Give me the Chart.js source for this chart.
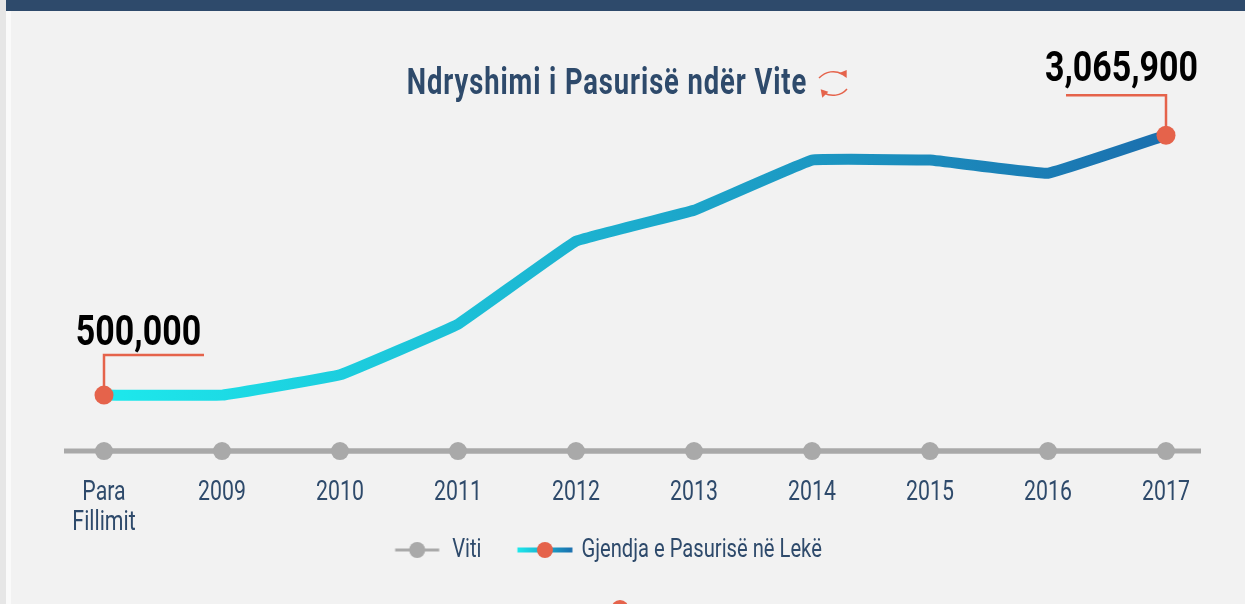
<!DOCTYPE html>
<html><head><meta charset="utf-8">
<script src="https://cdn.jsdelivr.net/npm/chart.js@4/dist/chart.umd.min.js"></script>
<style>
html,body{margin:0;padding:0;width:1245px;height:604px;overflow:hidden;background:#f2f2f2}
#strip{position:absolute;left:0;top:0;width:6px;height:604px;background:#e6e6e6}
#white{position:absolute;left:6px;top:0;width:5px;height:604px;background:#fafafa}
#bar{position:absolute;left:6px;top:0;width:1239px;height:11px;background:#2e4a6b}
#dot{position:absolute;left:611px;top:600px;width:18px;height:18px;border-radius:50%;background:#e5634b}
#icon{position:absolute;left:817px;top:68px}
canvas{position:absolute;left:0;top:0}
</style></head>
<body>
<div id="strip"></div><div id="white"></div><div id="bar"></div><div id="dot"></div>
<svg id="icon" width="33" height="32" viewBox="0 0 33 32" fill="none" stroke="#e5634b" stroke-width="1.5">
<path d="M2 10 C9 3 18 2 25 6"/><path d="M29.7 2 L29.7 10 L22.3 5 Z" fill="#e5634b" stroke="none"/>
<path d="M30 21 C24 28 14 29 7 25"/><path d="M3.7 21.3 L5.3 29.7 L11.3 23.7 Z" fill="#e5634b" stroke="none"/>
</svg>
<canvas id="c" width="1245" height="604"></canvas>
<script>
const categories = [["Para","Fillimit"],"2009","2010","2011","2012","2013","2014","2015","2016","2017"];
const pasuria = [500000,500000,700000,1200000,2020000,2325000,2820000,2820000,2690000,3065900];
const viti = [-52000,-52000,-52000,-52000,-52000,-52000,-52000,-52000,-52000,-52000];
const titleText = "Ndryshimi i Pasurisë ndër Vite";
const seriesNames = ["Viti","Gjendja e Pasurisë në Lekë"];
const FONT = "Roboto,'Liberation Sans',sans-serif";
const NAVY = "#2e4a6b", ORANGE = "#e5634b", GREY = "#a9a9a9";
const condense = {28:.76,26:.776,36:.76,43:.79};
const spacing = {36:'1.2px'};

const canvas = document.getElementById('c');
const rawCtx = canvas.getContext('2d');
const rawFill = rawCtx.fillText.bind(rawCtx), rawMeasure = rawCtx.measureText.bind(rawCtx);
const sizeNow = () => { const m = /(\d+(?:\.\d+)?)px/.exec(rawCtx.font); return m?Math.round(+m[1]):0; };
rawCtx.fillText = function(t,x,y){ const z = sizeNow(), s = condense[z]||1; rawCtx.save(); rawCtx.letterSpacing = spacing[z]||'0px'; rawCtx.translate(x,y); rawCtx.scale(s,1); rawFill(t,0,0); rawCtx.restore(); };
rawCtx.measureText = function(t){ const m = rawMeasure(t); return {width:m.width*(condense[sizeNow()]||1),actualBoundingBoxAscent:m.actualBoundingBoxAscent,actualBoundingBoxDescent:m.actualBoundingBoxDescent}; };

function legendMark(x0, x1, stroke, dot, h){
  const c = document.createElement('canvas'); c.width = 110; c.height = 24;
  const g = c.getContext('2d');
  const off = 33.5;
  if(stroke==='grad'){const l=g.createLinearGradient(off+x0,0,off+x1,0);l.addColorStop(0,'#1de9ec');l.addColorStop(1,'#1b6fae');g.strokeStyle=l;} else g.strokeStyle=stroke;
  g.lineWidth = h;
  g.beginPath(); g.moveTo(off+x0,12); g.lineTo(off+x1,12); g.stroke();
  g.fillStyle = dot; g.beginPath(); g.arc(off+(x0+x1)/2,12,8,0,Math.PI*2); g.fill();
  return c;
}
const markViti = legendMark(-1,43,GREY,GREY,3);
const markPas = legendMark(-8,47,'grad',ORANGE,5);

const callouts = {
  id:'callouts',
  afterLayout(chart){
    chart.titleBlock.left -= 28; chart.titleBlock.right -= 28;
    chart.legend.left -= 26; chart.legend.right -= 26;
    chart.legend.top -= 50; chart.legend.bottom -= 50;
  },
  beforeDatasetsDraw(chart){
    const {ctx,scales:{x}} = chart, m = chart.getDatasetMeta(0).data;
    const y = m[0].y;
    ctx.save(); ctx.strokeStyle = GREY; ctx.lineWidth = 5;
    ctx.beginPath(); ctx.moveTo(x.left-40,y); ctx.lineTo(x.right+35,y); ctx.stroke();
    ctx.restore();
  },
  afterDatasetsDraw(chart){
    const {ctx} = chart, pts = chart.getDatasetMeta(1).data;
    const a = pts[0], b = pts[pts.length-1];
    ctx.save();
    ctx.strokeStyle = ORANGE; ctx.lineWidth = 2.5;
    ctx.beginPath(); ctx.moveTo(a.x,a.y); ctx.lineTo(a.x,a.y-40); ctx.lineTo(a.x+100,a.y-40); ctx.stroke();
    ctx.beginPath(); ctx.moveTo(b.x,b.y); ctx.lineTo(b.x,b.y-40); ctx.lineTo(b.x-100,b.y-40); ctx.stroke();
    ctx.fillStyle = ORANGE;
    [a,b].forEach(p=>{ctx.beginPath();ctx.arc(p.x,p.y,9.5,0,Math.PI*2);ctx.fill();});
    ctx.fillStyle = '#000'; ctx.font = "bold 43px "+FONT; ctx.textBaseline='alphabetic'; ctx.textAlign='center';
    ctx.fillText(pasuria[0].toLocaleString('en-US'), a.x+34.5, a.y-50);
    ctx.fillText(pasuria[pasuria.length-1].toLocaleString('en-US'), b.x-44.5, b.y-54);
    ctx.restore();
  }
};

new Chart(canvas,{
  type:'line',
  data:{labels:categories,datasets:[
    {label:seriesNames[0],data:viti,borderColor:GREY,backgroundColor:GREY,borderWidth:5,pointRadius:9,pointBackgroundColor:GREY,pointBorderWidth:0,pointStyle:'circle',clip:false,tension:0},
    {label:seriesNames[1],data:pasuria,borderWidth:11,tension:0.06,clip:false,pointRadius:0,borderCapStyle:'butt',borderJoinStyle:'round',
     borderColor(ctx){const a=ctx.chart.chartArea;if(!a)return '#1bb';const g=ctx.chart.ctx.createLinearGradient(a.left,0,a.right,0);g.addColorStop(0,'#1de9ec');g.addColorStop(1,'#1b6fae');return g;}}
  ]},
  options:{
    responsive:false,animation:false,devicePixelRatio:1,
    layout:{padding:{left:104,right:79,top:63,bottom:-19}},
    plugins:{
      tooltip:{enabled:false},
      title:{display:true,text:titleText,color:NAVY,font:{family:FONT,size:36,weight:'bold'},padding:{top:0,bottom:7},align:'center'},
      legend:{display:true,position:'bottom',labels:{
        font:{family:FONT,size:26},color:NAVY,usePointStyle:true,pointStyleWidth:43,padding:44,
        generateLabels(chart){return seriesNames.map((t,i)=>({text:t,fontColor:NAVY,pointStyle:i?markPas:markViti,datasetIndex:i,lineWidth:0,strokeStyle:'transparent',fillStyle:'transparent'}));}
      }}
    },
    scales:{
      x:{offset:false,grid:{display:false},border:{display:false},ticks:{color:NAVY,font:{family:FONT,size:28,lineHeight:1.07},maxRotation:0,autoSkip:false,padding:5}},
      y:{display:false,min:-190800,max:3283000}
    }
  },
  plugins:[callouts]
});
</script>
</body></html>
